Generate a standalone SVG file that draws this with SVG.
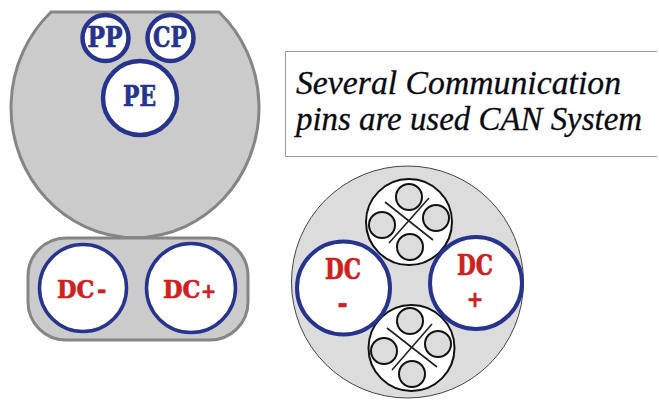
<svg xmlns="http://www.w3.org/2000/svg" width="659" height="402" viewBox="0 0 659 402">
<style>
.body{fill:#cbcbcb;stroke:#858585;stroke-width:3}
.pin{fill:#fff;stroke:#27348f}
.lab{font-family:"DejaVu Serif","Liberation Serif",serif;font-weight:bold;font-stretch:condensed;text-anchor:middle;font-size:27px;stroke-width:.6px}
.b{fill:#27348f;stroke:#27348f}
.r{fill:#cf2020;stroke:#cf2020}
.s{text-anchor:start;font-size:25px}
.cable{fill:#fff;stroke:#111;stroke-width:2}
.wire{fill:#dcdcdc;stroke:#111;stroke-width:2}
.x{stroke:#222;stroke-width:1.6;fill:none}
.note{font-family:"Liberation Serif",serif;font-style:italic;font-size:33px;fill:#0a0a14;stroke:#0a0a14;stroke-width:.3px}
</style>
<g id="upper-body"><path class="body" d="M51 12H219A124 130 0 1 1 51 12Z"/></g>
<g id="lower-body"><rect class="body" x="28" y="238" width="220" height="102" rx="38"/></g>
<g id="pin-pp"><circle class="pin" cx="105.500" cy="38" r="23" stroke-width="4.500"/><text class="lab b" x="105" y="47" textLength="35" lengthAdjust="spacingAndGlyphs">PP</text></g>
<g id="pin-cp"><circle class="pin" cx="170.500" cy="38" r="23" stroke-width="4.500"/><text class="lab b" x="170" y="47" textLength="34" lengthAdjust="spacingAndGlyphs">CP</text></g>
<g id="pin-pe"><circle class="pin" cx="140" cy="98" r="37" stroke-width="4.500"/><text class="lab b" x="139.500" y="106" textLength="33" lengthAdjust="spacingAndGlyphs">PE</text></g>
<g id="pin-dc-minus"><circle class="pin" cx="83" cy="288" r="43.500" stroke-width="3.500"/><text class="lab r s" x="57" y="298">DC<tspan x="97">-</tspan></text></g>
<g id="pin-dc-plus"><circle class="pin" cx="191" cy="288" r="44.500" stroke-width="3.500"/><text class="lab r s" x="163" y="298">DC<tspan x="201" style="font-size:20px">+</tspan></text></g>
<g id="note"><path d="M657 51.500H285.500V156.500H657" fill="#fff" stroke="#9a9a9a"/><text class="note" x="296" y="94" textLength="325" lengthAdjust="spacingAndGlyphs">Several Communication</text><text class="note" x="296" y="130" textLength="346" lengthAdjust="spacingAndGlyphs">pins are used CAN System</text></g>
<g id="round-connector"><circle cx="407.500" cy="282" r="116" fill="#dcdcdc" stroke="#444"/></g>
<g id="cable-top"><circle class="cable" cx="409" cy="222" r="43"/><circle class="wire" cx="409" cy="197" r="13"/><circle class="wire" cx="382" cy="225" r="13"/><circle class="wire" cx="436" cy="218" r="13"/><circle class="wire" cx="410" cy="247" r="13"/><path class="x" d="M385 202L433 240M429 198L389 243"/></g>
<g id="cable-bottom"><circle class="cable" cx="411.500" cy="348" r="43"/><circle class="wire" cx="410" cy="321" r="13"/><circle class="wire" cx="384" cy="351" r="13"/><circle class="wire" cx="438" cy="344" r="13"/><circle class="wire" cx="412" cy="374" r="13"/><path class="x" d="M387 328L437 367M432 324L392 370"/></g>
<g id="pin-dc-minus-2"><circle class="pin" cx="343.500" cy="288" r="46.500" stroke-width="4"/><text class="lab r" x="343" y="279" textLength="36" lengthAdjust="spacingAndGlyphs">DC</text><text class="lab r" x="342.500" y="313">-</text></g>
<g id="pin-dc-plus-2"><circle class="pin" cx="476" cy="283" r="46" stroke-width="4"/><text class="lab r" x="475" y="275" textLength="36" lengthAdjust="spacingAndGlyphs">DC</text><text class="lab r" x="475" y="307" style="font-size:22px">+</text></g>
</svg>
